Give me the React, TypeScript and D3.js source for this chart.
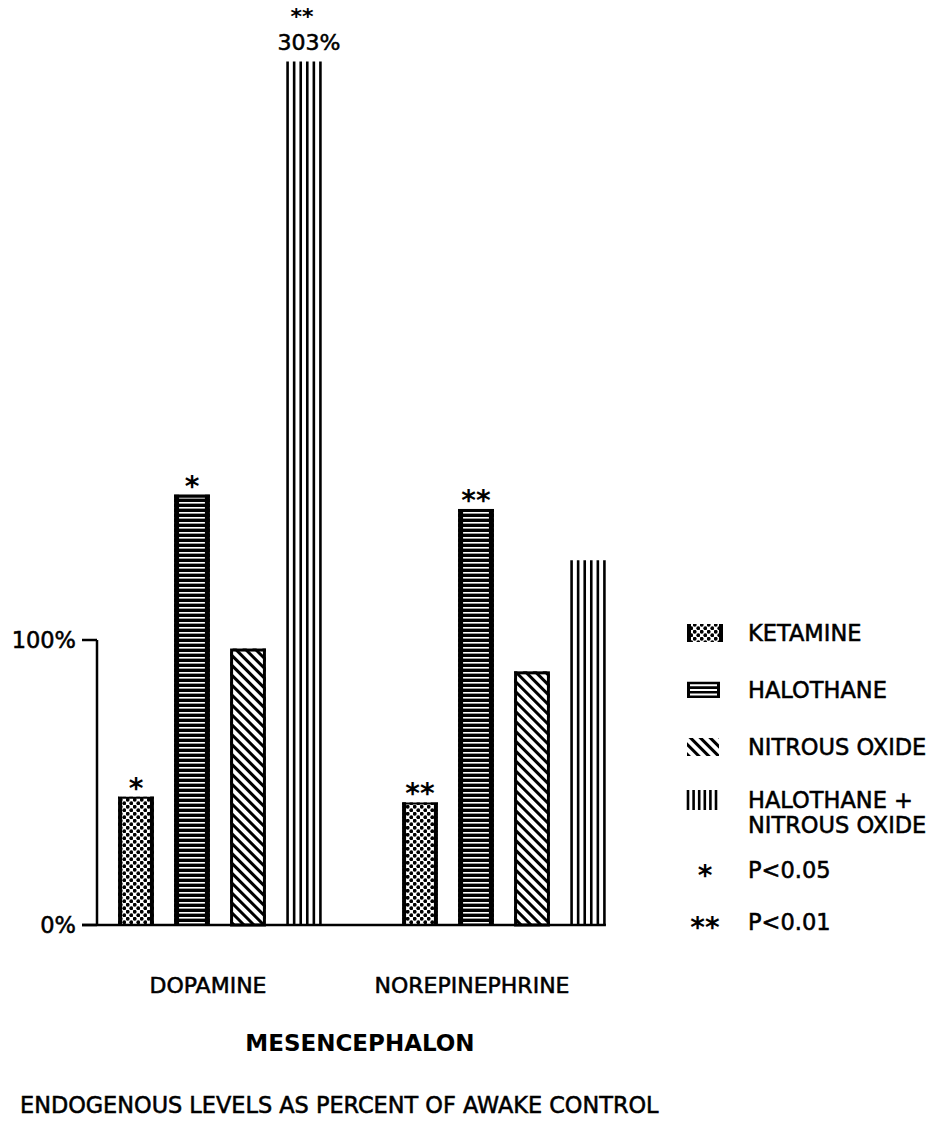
import React from "react";
import * as d3 from "d3";

// Transmitters (x groups) and anesthetic series
const categories = ["DOPAMINE", "NOREPINEPHRINE"];
const seriesNames = ["KETAMINE", "HALOTHANE", "NITROUS OXIDE", "HALOTHANE + NITROUS OXIDE"];
const seriesKeys = ["ket", "hal", "nit", "halnit"];

// Endogenous levels, percent of awake control
const dopamineValues = [45, 151, 97, 303];
const norepinephrineValues = [43, 146, 89, 128];

// Significance markers per bar ("" = none)
const dopamineMarks = ["*", "*", "", "**"];
const norepinephrineMarks = ["**", "**", "", ""];

const yTicks = [0, 100];
const yTickLabels = ["0%", "100%"];

const legendSymbols = ["*", "**"];
const legendSymbolLabels = ["P<0.05", "P<0.01"];

const FONT = "'DejaVu Sans', sans-serif";
// lettering is drawn slightly heavier than the regular face
const ink = { fill: "#000", stroke: "#000", strokeWidth: 0.55 };

export default function App() {
  const width = 935;
  const height = 1127;

  const y = d3.scaleLinear().domain([0, 100]).range([925, 640]);
  const x0 = d3.scaleBand<string>().domain(categories).range([78, 646]);
  const x1 = d3
    .scaleBand<string>()
    .domain(seriesKeys)
    .range([30, 254])
    .paddingInner(0.36)
    .paddingOuter(0.18);

  const valuesByCat = [dopamineValues, norepinephrineValues];
  const marksByCat = [dopamineMarks, norepinephrineMarks];

  const bars = categories.flatMap((c, ci) =>
    seriesKeys.map((k, si) => ({
      cat: c,
      key: k,
      value: valuesByCat[ci][si],
      mark: marksByCat[ci][si],
      x: (x0(c) as number) + (x1(k) as number),
      w: x1.bandwidth(),
    }))
  );

  const lastBar = bars[bars.length - 1];
  const axisX = 97;
  const baseY = y(0);
  // bars beyond this value carry their numeric value above them
  const labelThreshold = 250;

  const catLabelShift = [-12, -32];

  const drawBar = (b: (typeof bars)[number], i: number) => {
    const top = y(b.value);
    const h = baseY - top;
    const els: React.ReactNode[] = [];
    if (b.key === "ket") {
      els.push(<rect key="f" x={b.x} y={top} width={b.w} height={h} fill="url(#pDots)" />);
      els.push(<line key="l" x1={b.x + 2} x2={b.x + 2} y1={top} y2={baseY} stroke="#000" strokeWidth={4} />);
      els.push(<line key="r" x1={b.x + b.w - 2} x2={b.x + b.w - 2} y1={top} y2={baseY} stroke="#000" strokeWidth={4} />);
      els.push(<line key="t" x1={b.x} x2={b.x + b.w} y1={top + 1} y2={top + 1} stroke="#000" strokeWidth={2} />);
    } else if (b.key === "hal") {
      els.push(<rect key="f" x={b.x} y={top} width={b.w} height={h} fill="url(#pHoriz)" />);
      els.push(<line key="l" x1={b.x + 2.5} x2={b.x + 2.5} y1={top} y2={baseY} stroke="#000" strokeWidth={5} />);
      els.push(<line key="r" x1={b.x + b.w - 2.5} x2={b.x + b.w - 2.5} y1={top} y2={baseY} stroke="#000" strokeWidth={5} />);
      els.push(<line key="t" x1={b.x} x2={b.x + b.w} y1={top + 1.5} y2={top + 1.5} stroke="#000" strokeWidth={3} />);
    } else if (b.key === "nit") {
      els.push(<rect key="f" x={b.x} y={top} width={b.w} height={h} fill="url(#pDiag)" />);
      els.push(
        <rect key="o" x={b.x + 1.5} y={top + 1.5} width={b.w - 3} height={h - 1.5} fill="none" stroke="#000" strokeWidth={3} />
      );
    } else {
      const n = 6;
      const lx = d3.scalePoint<number>().domain(d3.range(n)).range([b.x + 1.5, b.x + b.w - 1.5]);
      d3.range(n).forEach((j) => {
        els.push(
          <line key={"v" + j} x1={lx(j)} x2={lx(j)} y1={top} y2={baseY} stroke="#000" strokeWidth={2.6} />
        );
      });
    }
    return <g key={i}>{els}</g>;
  };

  const legendX = 687;
  const legendTextX = 748;
  const legendRows = [633, 690, 747, 800];
  const symRows = [870, 922];

  const swatch = (k: string, cy: number) => {
    const sx = legendX;
    const sw = 36;
    const sh = 18;
    const sy = cy - sh / 2;
    if (k === "ket") {
      return (
        <g>
          <rect x={sx} y={sy} width={sw} height={sh} fill="url(#pDots)" />
          <line x1={sx + 2} x2={sx + 2} y1={sy} y2={sy + sh} stroke="#000" strokeWidth={4} />
          <line x1={sx + sw - 2} x2={sx + sw - 2} y1={sy} y2={sy + sh} stroke="#000" strokeWidth={4} />
        </g>
      );
    }
    if (k === "hal") {
      return (
        <g>
          <line x1={sx + 1.5} x2={sx + 1.5} y1={sy + 1} y2={sy + sh - 1} stroke="#000" strokeWidth={3} />
          <line x1={sx + sw - 4.5} x2={sx + sw - 4.5} y1={sy + 1} y2={sy + sh - 1} stroke="#000" strokeWidth={3} />
          {[0, 1, 2, 3].map((j) => (
            <line key={j} x1={sx} x2={sx + sw - 3} y1={sy + 2 + j * 4.6} y2={sy + 2 + j * 4.6} stroke="#000" strokeWidth={2.6} />
          ))}
        </g>
      );
    }
    if (k === "nit") {
      return (
        <g>
          <rect x={sx} y={sy} width={sw - 4} height={sh} fill="url(#pDiag)" />
        </g>
      );
    }
    return (
      <g>
        {d3.range(6).map((j) => (
          <line key={j} x1={sx + 1 + j * 5.6} x2={sx + 1 + j * 5.6} y1={sy - 1} y2={sy + sh + 1} stroke="#000" strokeWidth={2.6} />
        ))}
      </g>
    );
  };

  return (
    <svg
      width={width}
      height={height}
      style={{ position: "absolute", left: 0, top: 0, background: "#fff" }}
      fontFamily={FONT}
    >
      <defs>
        <pattern id="pDots" patternUnits="userSpaceOnUse" width={7} height={7}>
          <rect width={7} height={7} fill="#fff" />
          <circle cx={1.75} cy={1.75} r={1.9} fill="#000" />
          <circle cx={5.25} cy={5.25} r={1.9} fill="#000" />
        </pattern>
        <pattern id="pHoriz" patternUnits="userSpaceOnUse" width={10} height={5}>
          <rect width={10} height={5} fill="#000" />
          <rect y={2} width={10} height={1.6} fill="#fff" />
        </pattern>
        <pattern
          id="pDiag"
          patternUnits="userSpaceOnUse"
          width={7}
          height={7}
          patternTransform="rotate(-45)"
        >
          <rect width={7} height={7} fill="#fff" />
          <rect width={3} height={7} fill="#000" />
        </pattern>
      </defs>

      {/* bars */}
      {bars.map(drawBar)}

      {/* significance markers above ordinary bars */}
      {bars
        .filter((b) => b.mark && b.value <= labelThreshold)
        .map((b, i) => (
          <text
            key={"m" + i}
            x={b.x + b.w / 2}
            y={y(b.value) + 1}
            textAnchor="middle"
            fontSize={28}
            fontWeight="bold"
          >
            {b.mark}
          </text>
        ))}

      {/* marker and value stacked above the off-scale bar */}
      {bars
        .filter((b) => b.value > labelThreshold)
        .map((b, i) => (
          <g key={"v" + i}>
            <text x={b.x + b.w / 2 - 2} y={y(b.value) - 37} textAnchor="middle" fontSize={22} fontWeight="bold">
              {b.mark}
            </text>
            <text x={b.x + b.w / 2 + 5} y={y(b.value) - 11} textAnchor="middle" fontSize={22} {...ink}>
              {`${b.value}%`}
            </text>
          </g>
        ))}

      {/* axes */}
      <line x1={axisX} x2={axisX} y1={y(100)} y2={baseY} stroke="#000" strokeWidth={2.5} />
      <line x1={82} x2={lastBar.x + lastBar.w} y1={baseY} y2={baseY} stroke="#000" strokeWidth={2.5} />
      {yTicks.map((t, i) => (
        <g key={"t" + i}>
          <line x1={82} x2={axisX} y1={y(t)} y2={y(t)} stroke="#000" strokeWidth={2.5} />
          <text x={76} y={y(t) + 8} textAnchor="end" fontSize={22.5} {...ink}>
            {yTickLabels[i]}
          </text>
        </g>
      ))}

      {/* category labels */}
      {categories.map((c, i) => (
        <text
          key={c}
          x={(x0(c) as number) + x0.bandwidth() / 2 + catLabelShift[i]}
          y={993}
          textAnchor="middle"
          fontSize={22}
          {...ink}
        >
          {c}
        </text>
      ))}

      <text x={360} y={1051} textAnchor="middle" fontSize={23} fontWeight="bold">
        MESENCEPHALON
      </text>
      <text x={20} y={1113} fontSize={22.4} {...ink}>
        ENDOGENOUS LEVELS AS PERCENT OF AWAKE CONTROL
      </text>

      {/* legend */}
      {seriesKeys.map((k, i) => (
        <g key={"lg" + k}>
          {swatch(k, legendRows[i])}
          {i < 3 ? (
            <text x={legendTextX} y={legendRows[i] + 8} fontSize={22.5} {...ink}>
              {seriesNames[i]}
            </text>
          ) : (
            <g>
              <text x={legendTextX} y={legendRows[i] + 8} fontSize={22.5} {...ink}>
                HALOTHANE +
              </text>
              <text x={legendTextX} y={legendRows[i] + 33} fontSize={22.5} {...ink}>
                NITROUS OXIDE
              </text>
            </g>
          )}
        </g>
      ))}
      {legendSymbols.map((s, i) => (
        <g key={"ls" + i}>
          <text x={705} y={symRows[i] + 15} textAnchor="middle" fontSize={28} fontWeight="bold">
            {s}
          </text>
          <text x={legendTextX} y={symRows[i] + 8} fontSize={22.5} {...ink}>
            {legendSymbolLabels[i]}
          </text>
        </g>
      ))}
    </svg>
  );
}
